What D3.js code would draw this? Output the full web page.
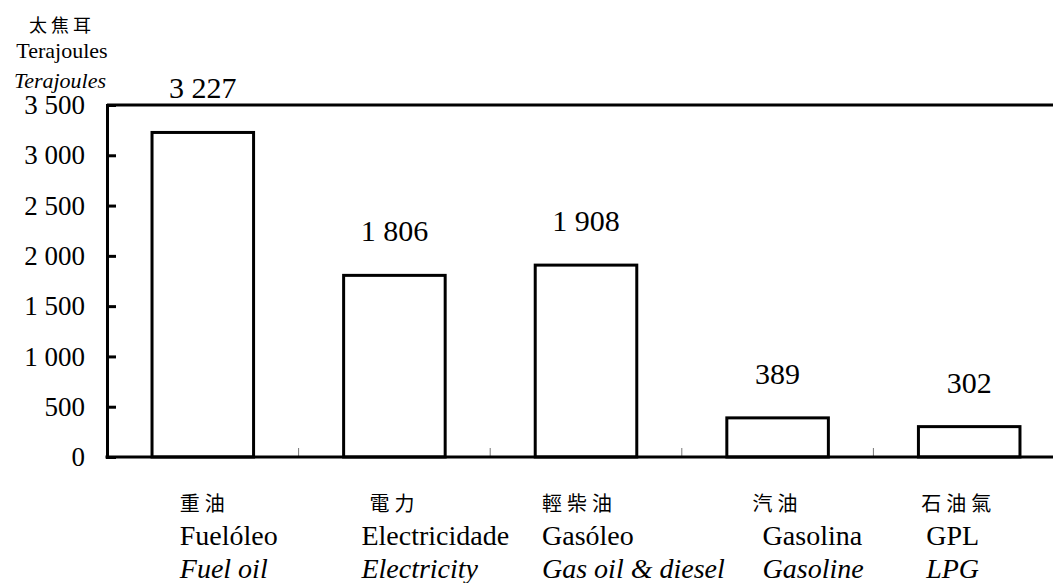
<!DOCTYPE html>
<html>
<head>
<meta charset="utf-8">
<script src="https://cdn.jsdelivr.net/npm/d3@7"></script>
<style>
  body { margin: 0; background: #fff; }
</style>
</head>
<body>
<div id="chart"></div>
<script>
// data
const catZh = ["重油", "電力", "輕柴油", "汽油", "石油氣"];
const catPt = ["Fuelóleo", "Electricidade", "Gasóleo", "Gasolina", "GPL"];
const catEn = ["Fuel oil", "Electricity", "Gas oil & diesel", "Gasoline", "LPG"];
const values = [3227, 1806, 1908, 389, 302];
const yTicks = [0, 500, 1000, 1500, 2000, 2500, 3000, 3500];
const unitLines = ["太焦耳", "Terajoules", "Terajoules"];

// label nudges from band centre (layout only)
const labelShift = [-23, -33, -44, -15, -43];
const zhShift = [-23, -25, -44, -25, -48];

const SERIF = '"Liberation Serif", "Times New Roman", Tinos, "DejaVu Serif", serif';
const CJK = '"Noto Sans CJK TC", "Noto Sans CJK SC", sans-serif';

const W = 1053, H = 583;
const margin = { top: 105, left: 107, bottom: 126 };
const plotRight = 1065;

const fmt = d3.formatLocale({ decimal: ".", thousands: " ", grouping: [3], currency: ["", ""] }).format(",d");

const svg = d3.select("#chart").append("svg")
  .attr("width", W).attr("height", H)
  .style("font-family", SERIF);

const x = d3.scaleBand()
  .domain(d3.range(values.length))
  .range([margin.left, plotRight])
  .paddingInner(0.47)
  .paddingOuter(0.235);

const y = d3.scaleLinear()
  .domain([0, 3500])
  .range([H - margin.bottom, margin.top]);

const y0 = y(0);

// top frame line
svg.append("line")
  .attr("x1", margin.left).attr("x2", plotRight)
  .attr("y1", y(3500)).attr("y2", y(3500))
  .attr("stroke", "#000").attr("stroke-width", 3);

// category separators on x axis
const step = x.step();
svg.selectAll(".sep")
  .data(d3.range(1, values.length))
  .join("line")
  .attr("x1", i => margin.left + i * step)
  .attr("x2", i => margin.left + i * step)
  .attr("y1", y0).attr("y2", y0 - 9)
  .attr("stroke", "#777").attr("stroke-width", 1);

// bars
svg.selectAll(".bar")
  .data(values)
  .join("rect")
  .attr("x", (d, i) => x(i))
  .attr("y", d => y(d))
  .attr("width", x.bandwidth())
  .attr("height", d => y0 - y(d))
  .attr("fill", "#fff")
  .attr("stroke", "#000")
  .attr("stroke-width", 3);

// y axis
const yAxis = svg.append("g")
  .attr("transform", `translate(${margin.left},0)`)
  .call(d3.axisLeft(y).tickValues(yTicks).tickFormat(fmt).tickSize(-9).tickPadding(22));
yAxis.attr("font-family", null);
yAxis.select(".domain").attr("stroke", "#000").attr("stroke-width", 3);
yAxis.selectAll(".tick line").attr("stroke", "#000").attr("stroke-width", 3);
yAxis.selectAll(".tick text")
  .style("font-family", SERIF)
  .style("font-size", "27px")
  .attr("fill", "#000");

// x axis baseline
svg.append("line")
  .attr("x1", margin.left - 1.5).attr("x2", plotRight)
  .attr("y1", y0).attr("y2", y0)
  .attr("stroke", "#000").attr("stroke-width", 3);

// value labels
svg.selectAll(".val")
  .data(values)
  .join("text")
  .attr("x", (d, i) => x(i) + x.bandwidth() / 2)
  .attr("y", d => y(d) - 34)
  .attr("text-anchor", "middle")
  .style("font-family", SERIF)
  .style("font-size", "30px")
  .text(d => fmt(d));

// category labels
const cx = i => x(i) + x.bandwidth() / 2;
svg.selectAll(".zh")
  .data(catZh)
  .join("text")
  .attr("x", (d, i) => cx(i) + zhShift[i])
  .attr("y", 511)
  .style("font-family", CJK)
  .style("font-size", "20px")
  .style("letter-spacing", "5px")
  .text(d => d);

svg.selectAll(".pt")
  .data(catPt)
  .join("text")
  .attr("x", (d, i) => cx(i) + labelShift[i])
  .attr("y", 545)
  .style("font-family", SERIF)
  .style("font-size", "28px")
  .text(d => d);

svg.selectAll(".en")
  .data(catEn)
  .join("text")
  .attr("x", (d, i) => cx(i) + labelShift[i])
  .attr("y", 578)
  .style("font-family", SERIF)
  .style("font-size", "28px")
  .style("font-style", "italic")
  .text(d => d);

// unit label
svg.append("text")
  .attr("x", 62).attr("y", 32)
  .attr("text-anchor", "middle")
  .style("font-family", CJK)
  .style("font-size", "18px").style("letter-spacing", "4px")
  .text(unitLines[0]);
svg.append("text")
  .attr("x", 62).attr("y", 58)
  .attr("text-anchor", "middle")
  .style("font-family", SERIF)
  .style("font-size", "22px")
  .text(unitLines[1]);
svg.append("text")
  .attr("x", 60).attr("y", 88)
  .attr("text-anchor", "middle")
  .style("font-family", SERIF)
  .style("font-size", "22px").style("font-style", "italic")
  .text(unitLines[2]);
</script>
</body>
</html>
